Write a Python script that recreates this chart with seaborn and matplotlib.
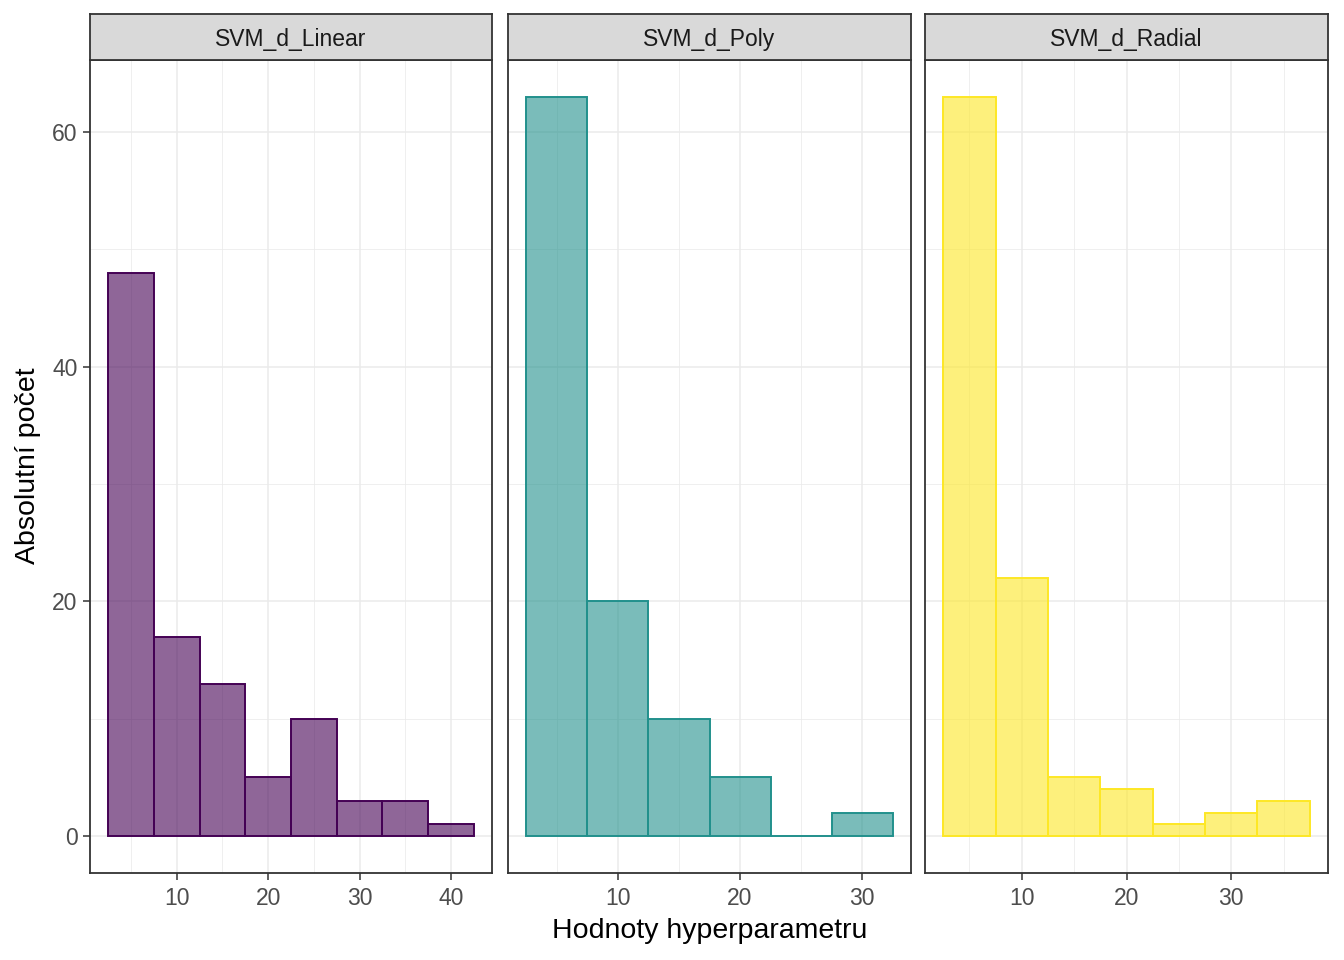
import matplotlib
matplotlib.use("Agg")
import matplotlib.pyplot as plt
import matplotlib.colors as mcolors
from matplotlib.ticker import MultipleLocator
import seaborn as sns

sns.set_theme(style = "white")
plt.rcParams["font.family"] = ["Liberation Sans", "DejaVu Sans"]


# Data (bin width 5, first bin starts at 2.5).
models = ["SVM_d_Linear", "SVM_d_Poly", "SVM_d_Radial"]
colors = ["#440154", "#21908C", "#FDE725"]
bin_width = 5
first_edge = 2.5
linear_counts = [48, 17, 13, 5, 10, 3, 3, 1]
poly_counts = [63, 20, 10, 5, 0, 2]
radial_counts = [63, 22, 5, 4, 1, 2, 3]
all_counts = [linear_counts, poly_counts, radial_counts]

x_label = "Hodnoty hyperparametru"
y_label = "Absolutní počet"

W, H = 1344, 960
fig = plt.figure(figsize = (W / 100, H / 100), dpi = 100)

panel_x = [(90, 492), (508, 911), (925, 1328)]
panel_top, panel_bottom, strip_top = 60, 873, 14

y_max = max(max(c) for c in all_counts)
y_pad = y_max * 0.05

for i, (name, col, counts) in enumerate(zip(models, colors, all_counts)):
    x0, x1 = panel_x[i]
    ax = fig.add_axes([x0 / W, (H - panel_bottom) / H, (x1 - x0) / W, (panel_bottom - panel_top) / H])

    edges = [first_edge + bin_width * k for k in range(len(counts) + 1)]
    centers = [e + bin_width / 2 for e in edges[:-1]]
    sns.histplot(x = centers, weights = counts, bins = edges, ax = ax, color = col, linewidth = 1.4)
    for p in ax.patches:
        p.set_facecolor(mcolors.to_rgba(col, 0.6))
        p.set_edgecolor(col)
        p.set_linewidth(1.4)
        p.set_zorder(3)

    lo, hi = edges[0], edges[-1]
    pad = (hi - lo) * 0.05
    ax.set_xlim(lo - pad, hi + pad)
    ax.set_ylim(-y_pad, y_max + y_pad)

    ax.xaxis.set_major_locator(MultipleLocator(10))
    ax.xaxis.set_minor_locator(MultipleLocator(5))
    ax.yaxis.set_major_locator(MultipleLocator(20))
    ax.yaxis.set_minor_locator(MultipleLocator(10))
    ax.grid(which = "major", color = "#EBEBEB", linewidth = 1.1, zorder = 0)
    ax.grid(which = "minor", color = "#EBEBEB", linewidth = 0.55, zorder = 0)
    ax.set_axisbelow(True)

    for s in ax.spines.values():
        s.set_color("#333333")
        s.set_linewidth(1.3)

    ax.tick_params(axis = "x", which = "major", bottom = True, length = 5, width = 1.1,
                   color = "#333333", labelsize = 16.5, labelcolor = "#4D4D4D", pad = 5)
    ax.tick_params(which = "minor", length = 0)
    if i == 0:
        ax.tick_params(axis = "y", which = "major", left = True, length = 5, width = 1.1,
                       color = "#333333", labelsize = 16.5, labelcolor = "#4D4D4D", pad = 4)
    else:
        ax.tick_params(axis = "y", left = False, labelleft = False)
    ax.set_xlabel("")
    ax.set_ylabel("")

    # Facet strip on top of each panel.
    sax = fig.add_axes([x0 / W, (H - panel_top) / H, (x1 - x0) / W, (panel_top - strip_top) / H])
    sax.set_facecolor("#D9D9D9")
    sax.set_xticks([])
    sax.set_yticks([])
    for s in sax.spines.values():
        s.set_color("#333333")
        s.set_linewidth(1.3)
    sax.text(0.5, 0.45, name, ha = "center", va = "center", fontsize = 16.5, color = "#1A1A1A",
             transform = sax.transAxes)

fig.text((508 + 911) / 2 / W, 1 - 931 / H, x_label, ha = "center", va = "center",
         fontsize = 20.5, color = "black")
fig.text(28 / W, 1 - 466 / H, y_label, ha = "center", va = "center", rotation = 90,
         fontsize = 20.5, color = "black")

plt.savefig("out.png", dpi = 100)
